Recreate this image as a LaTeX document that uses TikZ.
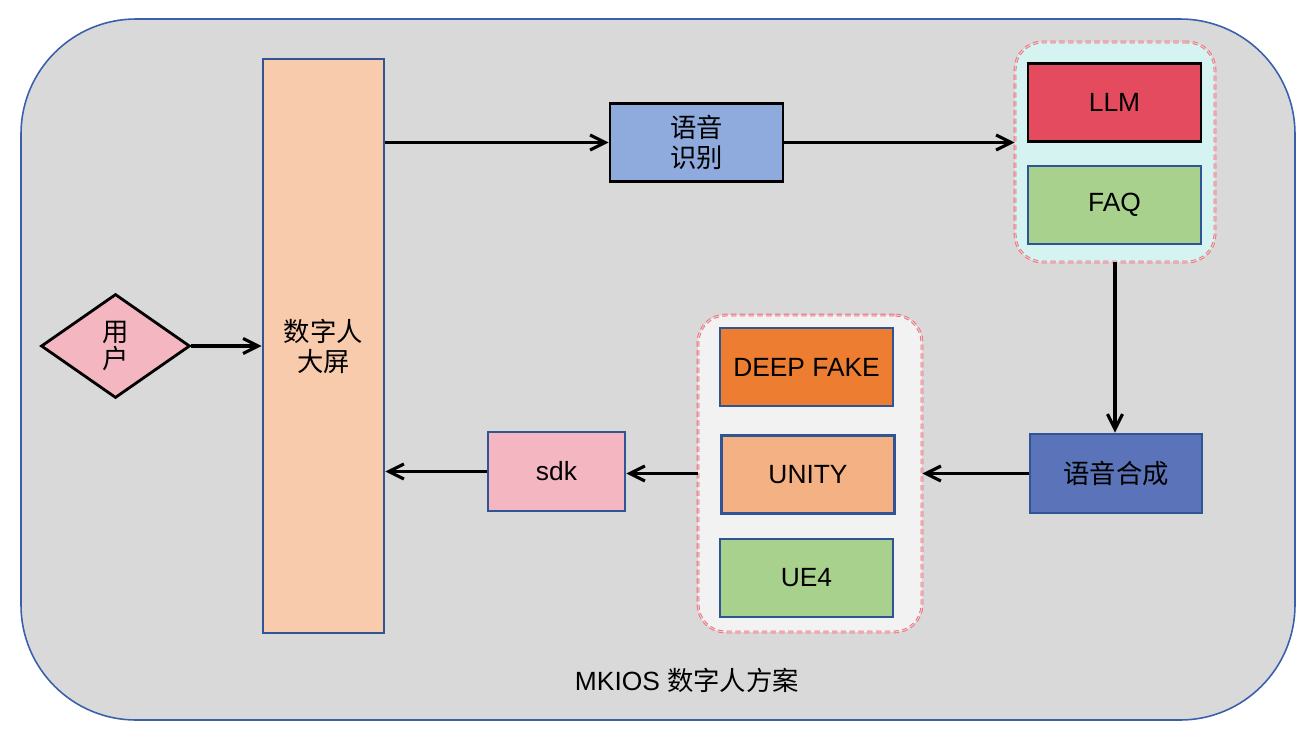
\documentclass[tikz,border=0pt]{standalone}
\usepackage{fontspec}
\setmainfont{Liberation Sans}
\newfontfamily\cjk{Noto Sans CJK SC}
\usepackage{tikz}
\usetikzlibrary{shapes.geometric,arrows.meta}
\newcommand{\zh}[1]{{\cjk #1}}
\definecolor{bggray}{HTML}{D9D9D9}
\definecolor{frameblue}{HTML}{3A5FAD}
\definecolor{edgeblue}{HTML}{2F5597}
\definecolor{pinkfill}{HTML}{F4B6C0}
\definecolor{peachfill}{HTML}{F8CBAD}
\definecolor{asrfill}{HTML}{8FAADC}
\definecolor{llmfill}{HTML}{E54B5E}
\definecolor{greenfill}{HTML}{A9D18E}
\definecolor{ttsfill}{HTML}{5B73B8}
\definecolor{orangefill}{HTML}{ED7D31}
\definecolor{unityfill}{HTML}{F4B183}
\definecolor{cyanfill}{HTML}{D5F3F1}
\definecolor{grpgray}{HTML}{F2F2F2}
\definecolor{grpline}{HTML}{E8707E}

\begin{document}
\begin{tikzpicture}[x=0.02cm,y=-0.02cm,
  font=\fontsize{15pt}{17pt}\selectfont,
  box/.style={draw=edgeblue,line width=1.6pt,rectangle,align=center,inner sep=0pt,
    minimum width=3.46cm,minimum height=1.56cm},
  grp/.style={draw=grpline,line width=0.5pt,double=grpline!40,double distance=0.6pt,
    densely dashed,rounded corners=0.55cm,inner sep=0pt},
  link/.style={->,>={Straight Barb[length=3mm,width=3mm]},line width=1.8pt}]
\useasboundingbox (0,0) rectangle (1316,741);
\draw[fill=bggray,draw=frameblue,line width=0.9pt,rounded corners=2.3cm] (21,19) rectangle (1295,720);

\node[grp,fill=cyanfill,minimum width=4cm,minimum height=4.4cm] (grpa) at (1115,152) {};
\node[grp,fill=grpgray,minimum width=4.48cm,minimum height=6.34cm] (grpb) at (810,473.5) {};

\node[diamond,draw=black,line width=1.6pt,fill=pinkfill,aspect=1.43,inner sep=0pt,
  minimum width=2.98cm,minimum height=2.08cm,align=center,
  font=\fontsize{15pt}{15pt}\selectfont] (user) at (115.5,346) {\zh{用}\\\zh{户}};
\node[box,fill=peachfill,minimum width=2.42cm,minimum height=11.48cm] (screen) at (323.5,346) {\zh{数字人}\\\zh{大屏}};
\node[box,draw=black,fill=asrfill] (asr) at (696.5,142.5) {\zh{语音}\\\zh{识别}};
\node[box,draw=black,fill=llmfill] (llm) at (1114.5,102.5) {LLM};
\node[box,fill=greenfill] (faq) at (1114.5,205) {FAQ};
\node[box,fill=ttsfill,minimum width=3.44cm,minimum height=1.58cm] (tts) at (1116,473.5) {\zh{语音合成}};
\node[box,fill=orangefill] (deep) at (806.5,367) {DEEP FAKE};
\node[box,fill=unityfill] (unity) at (808,474.5) {UNITY};
\node[box,fill=greenfill] (ue) at (806.5,578) {UE4};
\node[box,fill=pinkfill,minimum width=2.74cm,minimum height=1.58cm] (sdk) at (556.5,471.5) {sdk};

\node (title) at (687,680) {MKIOS \zh{数字人方案}};

\draw (user) edge[link] (user -| screen.west);
\draw (screen.east |- asr.west) edge[link] (asr.west);
\draw (asr.east) edge[link] (asr.east -| grpa.west);
\draw (grpa.south) edge[link] (grpa.south |- tts.north);
\draw (tts.west) edge[link] (tts.west -| grpb.east);
\draw (grpb.west) edge[link] (grpb.west -| sdk.east);
\draw (sdk.west) edge[link] (sdk.west -| screen.east);

\end{tikzpicture}
\end{document}
